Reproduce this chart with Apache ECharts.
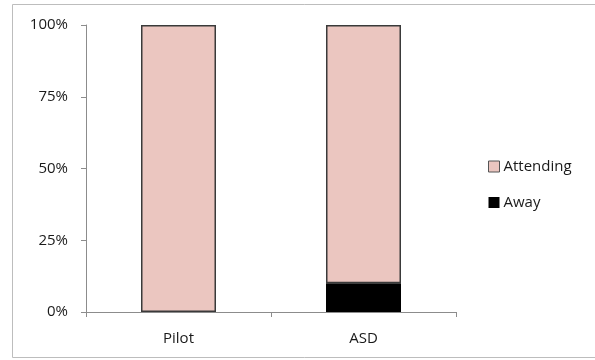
<!DOCTYPE html>
<html>
<head>
<meta charset="utf-8">
<script src="https://cdn.jsdelivr.net/npm/echarts@6/dist/echarts.min.js"></script>
<style>
  html, body { margin: 0; padding: 0; background: #fff; }
  #chart { width: 595px; height: 360px; }
</style>
</head>
<body>
<div id="chart"></div>
<script>
// Share of time spent attending vs. away, per group
const categories = ['Pilot', 'ASD'];
const attending = [100, 90];
const away = [0, 10];
const yTicks = [0, 25, 50, 75, 100];

const font = 'Open Sans';
const chart = echarts.init(document.getElementById('chart'));

chart.setOption({
  animation: false,
  textStyle: { fontFamily: font },
  graphic: [{
    type: 'rect',
    shape: { x: 12.5, y: 4.5, width: 600, height: 353 },
    style: { fill: 'none', stroke: '#bdbdbd', lineWidth: 1 },
    silent: true
  }],
  grid: { left: 86, top: 25, width: 370, height: 287 },
  legend: {
    orient: 'vertical',
    left: 483,
    top: 154,
    itemWidth: 11,
    itemHeight: 11,
    itemGap: 21,
    icon: 'rect',
    textStyle: { fontFamily: font, fontSize: 15, color: '#1a1a1a', padding: [0, 0, 0, -1] },
    data: [
      { name: 'Attending', itemStyle: { borderColor: '#555', borderWidth: 1 } },
      { name: 'Away' }
    ]
  },
  xAxis: {
    type: 'category',
    data: categories,
    axisLine: { lineStyle: { color: '#8c8c8c', width: 1 } },
    axisTick: { show: true, alignWithLabel: false, length: 5, lineStyle: { color: '#8c8c8c' } },
    axisLabel: { fontFamily: font, fontSize: 15, color: '#1a1a1a', margin: 19 }
  },
  yAxis: {
    type: 'value',
    min: 0,
    max: 100,
    interval: 25,
    splitLine: { show: false },
    axisLine: { show: true, lineStyle: { color: '#8c8c8c', width: 1 } },
    axisTick: { show: true, length: 5, lineStyle: { color: '#8c8c8c' } },
    axisLabel: {
      fontFamily: font, fontSize: 15, color: '#1a1a1a', margin: 18,
      formatter: v => yTicks.includes(v) ? v + '%' : ''
    }
  },
  series: [
    {
      name: 'Away',
      type: 'bar',
      stack: 'total',
      barWidth: 75,
      data: away,
      itemStyle: { color: '#000000', borderWidth: 0 }
    },
    {
      name: 'Attending',
      type: 'bar',
      stack: 'total',
      barWidth: 75,
      data: attending,
      itemStyle: { color: '#ebc6c0', borderColor: '#3a3a3a', borderWidth: 1.5 }
    }
  ]
});
</script>
</body>
</html>
